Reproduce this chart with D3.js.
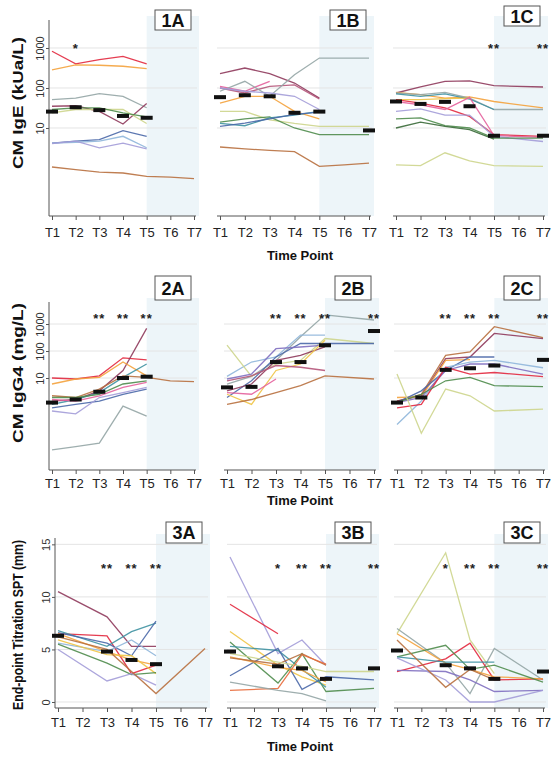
<!DOCTYPE html>
<html>
<head>
<meta charset="utf-8">
<script src="https://cdn.jsdelivr.net/npm/d3@7"></script>
<style>
  body { margin: 0; background: #fff; }
  svg { font-family: "Liberation Sans", Arial, sans-serif; }
</style>
</head>
<body>
<div id="chart-area"></div>
<script>
// time points and tick labels
const timePoints = ["T1", "T2", "T3", "T4", "T5", "T6", "T7"]
const logTicks = [10, 100, 1000]
const sptTicks = [0, 5, 10, 15]

// CM IgE (kUa/L) per patient, T1..T7
const ige1A = [
  [830, 400, 515, 620, 400],
  [285, 380, 370, 350, 305],
  [51, 56, 72, 62, 32],
  [35, 36, 26, 12.6, 41],
  [24, 29, 29, 29, 13],
  [29, 32, 32, 24, 19],
  [4.2, 4.7, 5.1, 8.6, 6.2],
  [4.2, 4.4, 4.7, 6.2, 3.2],
  [4.1, 4.7, 3.2, 4.2, 3.0],
  [1.06, 0.91, 0.79, 0.75, 0.62, 0.59, 0.54]
]
const ige1AColors = ["red", "orange", "gray", "maroon", "yellowgreen", "green", "blue", "lightblue", "lavender", "brown"]
const ige1AMedian = [25.7, 33, 28, 20, 18]

const ige1B = [
  [229, 316, 229, 133, 56],
  [110, 83, 147],
  [100, 75, 110, 120, 53],
  [83, 147, 62, 215, 560, 560, 560],
  [100, 83, 75, 62, 29],
  [42, 62, 62, 26, 17],
  [26, 26, 16, 13, 11, 11, 11],
  [14, 17, 19, 10, 6.8, 6.8, 6.8],
  [13, 11.4, 18, 21, 26],
  [11, 13.3, 17, 22, 25],
  [3.35, 3.0, 2.76, 2.56, 1.1, 1.2, 1.33]
]
const ige1BColors = ["maroon", "pink", "rose", "gray", "lavender", "orange", "yellowgreen", "green", "teal", "blue", "brown"]
const ige1BMedian = [59, 66, 62, 24, 25.7, null, 8.7]

const ige1C = [
  [75, 106, 147, 150, 114, null, 106],
  [78, 68, 56, 60, 46, null, 32],
  [75, 68, 78, 56, 29, null, 29],
  [71, 62, 71, 53, 29],
  [51, 51, 54, 56],
  [51, 42, 32, 19.5, 6.8, null, 6.2],
  [46, 38, 29, 58, 6.5, null, 5.8],
  [26, 30, 21, 21, 6.2, null, 4.6],
  [17, 18, 11.4, 10, 5.6, null, 5.6],
  [10, 14, 11, 9.1, 5.3],
  [1.2, 1.15, 2.4, 1.5, 1.15, null, 1.1]
]
const ige1CColors = ["maroon", "orange", "gray", "teal", "yellow", "red", "pink", "lavender", "green", "darkgreen", "yellowgreen"]
const ige1CMedian = [46, 40, 45, 35, 6.4, null, 6.4]

// CM IgG4 (mg/L)
const igg2A = [
  [10, 9.2, 12, 56, 47],
  [1.4, 1.6, 3.35, 19, 690],
  [6, 9.2, 10.6, 39, 12],
  [1.06, 1.6, 2.9, 10.6, 33],
  [2.2, 1.9, 3.9, 12, 10.6, 7.9, 7.3],
  [1.9, 1.9, 2.5, 6, 7.9],
  [1.6, 1.4, 2.2, 4.5, 6.9],
  [0.79, 1.06, 1.4, 2.5, 3.9],
  [0.6, 0.47, 1.9, 2.9, 4.5],
  [0.022, 0.029, 0.039, 0.91, 0.39]
]
const igg2AColors = ["red", "maroon", "orange", "teal", "brown", "green", "pink", "blue", "lavender", "gray"]
const igg2AMedian = [1.23, 1.6, 3.1, 10, 11.2]

const igg2B = [
  [6, 11.5, 45, 335, 2190, null, 1410],
  [11.5, 39, 60, 390, 390],
  [164, 11.5, 33, 45, 290, null, 190],
  [1.9, 7.9, 60, 190, 190, null, 190],
  [9.2, 14, 122, 141, 164],
  [3.35, 6, 45, 69, 141],
  [2.5, 1.06, 19, 33, 250],
  [2.9, 2.5, 9.2],
  [7.9, 12, 29, 25, 19],
  [1.06, 1.6, 2.9, 5.2, 12, null, 9.2]
]
const igg2BColors = ["gray", "lightblue", "yellowgreen", "blue", "purple", "maroon", "yellow", "pink", "rose", "brown"]
const igg2BMedian = [4.5, 4.7, 39, 39, 163, null, 550]

const igg2C = [
  [1.4, 2.5, 69, 92, 794, null, 316],
  [1.4, 2.2, 52, 60, 447, null, 290],
  [1.9, 2.0, 45, 48],
  [1.23, 3.35, 19, 60, 60],
  [0.19, 1.4, 25, 39, 45, null, 24],
  [1.23, 1.9, 19, 33, 33, null, 14],
  [0.79, 1.06, 25, 14, 16, null, 11.2],
  [1.23, 2.5, 7.9, 10.6, 5.2, null, 4.8],
  [14, 0.09, 3.9, 2.2, 0.6, null, 0.7]
]
const igg2CColors = ["brown", "maroon", "orange", "blue", "lightblue", "purple", "red", "green", "yellowgreen"]
const igg2CMedian = [1.23, 1.9, 20, 23, 29, null, 47]

// End-point titration SPT (mm)
const spt3A = [
  [10.5, null, 8.1, 5.3, 5.3],
  [6.5, null, 6.3, 2.7, 3.5],
  [6.8, null, 5.3, 6.7, 7.5],
  [6.6, null, 5.6, 4.4, 7.7],
  [5.6, null, 4.8, 5.9, 4.4],
  [6.5, null, 4.8, 4.0, 3.5],
  [5.9, null, 4.5, 4.4, 2.7],
  [5.5, null, 3.7, 2.6, 2.8],
  [5.0, null, 2.0, 2.7, 1.6],
  [6.2, null, 5.0, 2.9, 0.8, null, 5.1]
]
const spt3AColors = ["maroon", "red", "teal", "blue", "lightblue", "orange", "yellow", "green", "lavender", "brown"]
const spt3AMedian = [6.3, null, 4.8, 4.0, 3.6]

const spt3B = [
  [13.8, null, 4.6, 5.9, 3.5],
  [9.3, null, 6.5],
  [6.7, null, 3.5, 2.4, 1.6],
  [5.7, null, 1.8, 4.6, 1.0, null, 1.3],
  [5.3, null, 4.9, 3.1, 1.4],
  [2.5, null, 5.1, 1.2, 2.4, null, 2.1],
  [4.3, null, 3.3, 3.0, 1.9],
  [4.2, null, 3.6, 4.6, 3.5],
  [4.6, null, 3.8, 3.4, 2.9, null, 2.9],
  [1.1, null, 1.3, 4.5, 3.6],
  [1.9, null, 1.1, 0.8, 0.1]
]
const spt3BColors = ["lavender", "red", "yellow", "green", "teal", "blue", "orange", "brown", "yellowgreen", "orangered", "gray"]
const spt3BMedian = [4.8, null, 3.4, 3.2, 2.2, null, 3.2]

const spt3C = [
  [6.5, null, 14.2, 5.9, 2.7],
  [7.0, null, 3.7, 0.8, 5.1, null, 2.1],
  [2.9, null, 4.1, 5.6, 2.1, null, 2.2],
  [6.5, null, 3.7, 3.1, 2.4, null, 2.2],
  [4.3, null, 5.4, 3.1, 3.5, null, 1.9],
  [4.3, null, 3.8, 3.8, 3.8],
  [3.0, null, 2.9, 2.1, 1.0, null, 1.1],
  [4.2, null, 2.1, 0.0, 0.0, null, 1.1],
  [5.9, null, 1.4, 3.1, 2.1]
]
const spt3CColors = ["yellowgreen", "gray", "red", "orange", "green", "teal", "purple", "lavender", "brown"]
const spt3CMedian = [4.9, null, 3.5, 3.2, 2.2, null, 2.9]

// significance marks per time point
const stars1A = ["", "*", "", "", "", "", ""]
const stars1B = ["", "", "", "", "", "", ""]
const stars1C = ["", "", "", "", "**", "", "**"]
const stars2A = ["", "", "**", "**", "**", "", ""]
const stars2B = ["", "", "**", "**", "**", "", "**"]
const stars2C = ["", "", "**", "**", "**", "", "**"]
const stars3A = ["", "", "**", "**", "**", "", ""]
const stars3B = ["", "", "*", "**", "**", "", "**"]
const stars3C = ["", "", "*", "**", "**", "", "**"]

const palette = {
  red: "#e2283e", orange: "#f4a23c", maroon: "#8f3a5c", rose: "#b5557a", brown: "#b8703f",
  gray: "#93a5a5", teal: "#3f92a2", blue: "#4a68a8", lightblue: "#8fb6da", lavender: "#a39cd8",
  purple: "#7f6fc0", green: "#4f8c4c", darkgreen: "#3a6a39", yellowgreen: "#cdd58c",
  yellow: "#f0c445", pink: "#e4609c", orangered: "#e86a3a"
}

const svg = d3.select("#chart-area").append("svg")
  .attr("width", 555)
  .attr("height", 760)

const rows = [
  { scale: d3.scaleLog().domain([0.0668, 5012]).range([215, 20]), ticks: logTicks, base: 216, top: 16, pad: 8,
    title: "CM IgE (kUa/L)", titleY: 103, titleLen: 132, starY: 53, boxY: 10, boxH: 20, xTitleY: 260 },
  { scale: d3.scaleLog().domain([0.00427, 4266]).range([469, 307]), ticks: logTicks, base: 470, top: 298, pad: 5,
    title: "CM IgG4 (mg/L)", titleY: 373, titleLen: 140, starY: 323, boxY: 276, boxH: 24, xTitleY: 505 },
  { scale: d3.scaleLinear().domain([-0.571, 15.7]).range([708, 537]), ticks: sptTicks, base: 708, top: 534, pad: 6,
    title: "End-point Titration SPT (mm)", titleY: 625, titleLen: 170, starY: 573, boxY: 522, boxH: 21, xTitleY: 751 }
]

const panels = [
  { row: 0, x0: 52, x1: 194, label: "1A", data: ige1A, colors: ige1AColors, median: ige1AMedian, stars: stars1A, yAxis: true },
  { row: 0, x0: 220, x1: 369, label: "1B", data: ige1B, colors: ige1BColors, median: ige1BMedian, stars: stars1B },
  { row: 0, x0: 396, x1: 543, label: "1C", data: ige1C, colors: ige1CColors, median: ige1CMedian, stars: stars1C, boxDy: -4 },
  { row: 1, x0: 52, x1: 194, label: "2A", data: igg2A, colors: igg2AColors, median: igg2AMedian, stars: stars2A, yAxis: true },
  { row: 1, x0: 227, x1: 374, label: "2B", data: igg2B, colors: igg2BColors, median: igg2BMedian, stars: stars2B },
  { row: 1, x0: 397, x1: 543, label: "2C", data: igg2C, colors: igg2CColors, median: igg2CMedian, stars: stars2C },
  { row: 2, x0: 58, x1: 205, label: "3A", data: spt3A, colors: spt3AColors, median: spt3AMedian, stars: stars3A, yAxis: true },
  { row: 2, x0: 230, x1: 374, label: "3B", data: spt3B, colors: spt3BColors, median: spt3BMedian, stars: stars3B },
  { row: 2, x0: 397, x1: 543, label: "3C", data: spt3C, colors: spt3CColors, median: spt3CMedian, stars: stars3C }
]

panels.forEach(p => {
  const r = rows[p.row]
  const y = r.scale
  const x = d3.scalePoint().domain(timePoints).range([p.x0, p.x1])
  const g = svg.append("g")

  // follow-up shading T5..T7
  g.append("rect")
    .attr("x", x("T5"))
    .attr("y", r.top)
    .attr("width", x("T7") - x("T5") + 5)
    .attr("height", r.base - r.top)
    .attr("fill", "#edf5f9")

  // gridlines
  g.selectAll(".grid").data(r.ticks).enter().append("line")
    .attr("x1", p.x0 - 3).attr("x2", p.x1 + 3)
    .attr("y1", d => y(d)).attr("y2", d => y(d))
    .attr("stroke", "#e4e4e4").attr("stroke-width", 1)

  // x axis
  const xAxis = g.append("g")
    .attr("transform", `translate(0, ${r.base})`)
    .call(d3.axisBottom(x).tickSize(4).tickPadding(r.pad).tickSizeOuter(0))
  xAxis.select(".domain").attr("stroke", "#555").attr("d", `M${p.x0 - 3},0H${p.x1 + 2}`)
  xAxis.selectAll(".tick line").attr("stroke", "#555")
  xAxis.selectAll("text").attr("font-size", "13px").attr("fill", "#222")

  // y axis
  if (p.yAxis) {
    const yAxis = g.append("g")
      .attr("transform", `translate(${p.x0 - 3}, 0)`)
      .call(d3.axisLeft(y).tickValues(r.ticks).tickSize(3).tickFormat(d3.format("d")).tickSizeOuter(0))
    yAxis.select(".domain").attr("stroke", "#555").attr("d", `M0,${r.top + 4}V${r.base}`)
    yAxis.selectAll(".tick line").attr("stroke", "#555")
    yAxis.selectAll("text")
      .attr("font-size", "11px").attr("fill", "#333")
      .attr("x", 0).attr("dy", 0).attr("y", 0)
      .attr("text-anchor", "middle")
      .attr("transform", "translate(-5,0) rotate(-90)")
  }

  // patient lines
  const line = d3.line()
    .x(d => x(timePoints[d.i]))
    .y(d => y(Math.max(d.v, y.domain()[0])))

  p.data.forEach((s, k) => {
    const pts = s.map((v, i) => ({ i: i, v: v })).filter(d => d.v != null)
    g.append("path")
      .attr("d", line(pts))
      .attr("fill", "none")
      .attr("stroke", palette[p.colors[k]])
      .attr("stroke-width", 1.3)
      .attr("stroke-opacity", 0.9)
  })

  // medians
  const med = p.median.map((v, i) => ({ i: i, v: v })).filter(d => d.v != null)
  g.selectAll(".median").data(med).enter().append("rect")
    .attr("x", d => x(timePoints[d.i]) - 6)
    .attr("y", d => y(d.v) - 2)
    .attr("width", 12)
    .attr("height", 4)
    .attr("fill", "#111")

  // stars
  g.selectAll(".star").data(p.stars.map((s, i) => ({ s: s, i: i })).filter(d => d.s)).enter()
    .append("text")
    .attr("x", d => x(timePoints[d.i]))
    .attr("y", r.starY)
    .attr("text-anchor", "middle")
    .attr("font-size", "13px")
    .attr("font-weight", "bold")
    .attr("letter-spacing", "1px")
    .attr("fill", "#222")
    .text(d => d.s)

  // panel label box
  const bw = 36
  const by = r.boxY + (p.boxDy || 0)
  g.append("rect")
    .attr("x", p.x1 - 3 - bw).attr("y", by)
    .attr("width", bw).attr("height", r.boxH)
    .attr("fill", "#fff").attr("stroke", "#555").attr("stroke-width", 1)
  g.append("text")
    .attr("x", p.x1 - 3 - bw / 2).attr("y", by + r.boxH / 2 + 6.5)
    .attr("text-anchor", "middle")
    .attr("font-size", "18px").attr("font-weight", "bold")
    .attr("fill", "#111")
    .text(p.label)
})

// row titles
rows.forEach(r => {
  svg.append("text")
    .attr("transform", `translate(23, ${r.titleY}) rotate(-90)`)
    .attr("text-anchor", "middle")
    .attr("font-size", "14px").attr("font-weight", "bold")
    .attr("textLength", r.titleLen).attr("lengthAdjust", "spacingAndGlyphs")
    .attr("fill", "#111")
    .text(r.title)

  svg.append("text")
    .attr("x", 300).attr("y", r.xTitleY)
    .attr("text-anchor", "middle")
    .attr("font-size", "13px").attr("font-weight", "bold")
    .attr("fill", "#111")
    .text("Time Point")
})
</script>
</body>
</html>
